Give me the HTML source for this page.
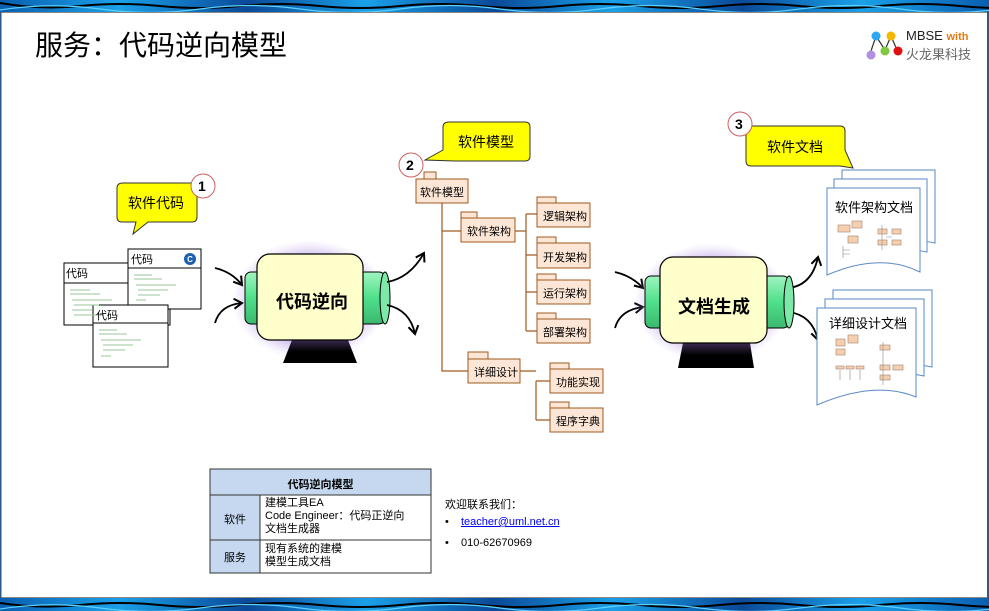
<!DOCTYPE html>
<html><head><meta charset="utf-8">
<style>
body{margin:0;width:989px;height:611px;overflow:hidden;background:#fff;font-family:"Liberation Sans","Noto Sans CJK SC",sans-serif;position:relative}
.a{position:absolute}
.t{font-family:"Liberation Sans","Noto Sans CJK SC",sans-serif}
</style></head><body>
<svg class="a" style="left:0;top:0" width="989" height="611" viewBox="0 0 989 611">
<defs>
<linearGradient id="band" x1="0" x2="1">
<stop offset="0" stop-color="#0a5fb0"/><stop offset=".12" stop-color="#1aa0e8"/><stop offset=".25" stop-color="#0a4a98"/><stop offset=".37" stop-color="#1aa0e8"/><stop offset=".5" stop-color="#0a4a98"/><stop offset=".62" stop-color="#1aa0e8"/><stop offset=".75" stop-color="#0a4a98"/><stop offset=".87" stop-color="#1aa0e8"/><stop offset="1" stop-color="#0a5fb0"/></linearGradient>
<radialGradient id="glow"><stop offset=".55" stop-color="#8a60d0" stop-opacity=".85"/><stop offset="1" stop-color="#c8b0f0" stop-opacity="0"/></radialGradient>
<linearGradient id="cyl" x1="0" y1="0" x2="0" y2="1"><stop offset="0" stop-color="#9ff5bf"/><stop offset=".5" stop-color="#4fe08a"/><stop offset="1" stop-color="#3bb870"/></linearGradient>
<linearGradient id="base" x1="0" y1="0" x2="0" y2="1"><stop offset="0" stop-color="#3a2a50"/><stop offset=".5" stop-color="#000"/></linearGradient>
<marker id="ah" markerWidth="12" markerHeight="12" refX="9" refY="6" orient="auto" markerUnits="userSpaceOnUse"><path d="M1,1 L9,6 L1,11" fill="none" stroke="#000" stroke-width="2"/></marker>
<clipPath id="cb1"><rect x="0" y="0" width="989" height="12"/></clipPath>
<clipPath id="cb2"><rect x="0" y="598" width="989" height="13"/></clipPath>
</defs>
<!-- bands -->
<rect x="0" y="0" width="989" height="12" fill="url(#band)"/>
<g clip-path="url(#cb1)" stroke="#000" stroke-width="2" fill="none">
<path d="M0,3 Q40,10 80,6 T160,6 T240,6 T320,6 T400,6 T480,6 T560,6 T640,6 T720,6 T800,6 T880,6 T960,6 T1040,6"/>
<path d="M0,10 Q50,2 100,9 T200,9 T300,9 T400,9 T500,9 T600,9 T700,9 T800,9 T900,9 T1000,9" stroke="#5cd0ff" stroke-width="1.2"/>
</g>
<rect x="0" y="12" width="989" height="1" fill="#888"/>
<rect x="0" y="598" width="989" height="13" fill="url(#band)"/>
<g clip-path="url(#cb2)" stroke="#000" stroke-width="2" fill="none">
<path d="M0,603 Q40,609 80,605 T160,605 T240,605 T320,605 T400,605 T480,605 T560,605 T640,605 T720,605 T800,605 T880,605 T960,605 T1040,605"/>
<path d="M0,609 Q50,601 100,608 T200,608 T300,608 T400,608 T500,608 T600,608 T700,608 T800,608 T900,608 T1000,608" stroke="#5cd0ff" stroke-width="1.2"/>
</g>
<rect x="0" y="597" width="989" height="1" fill="#888"/>
<rect x="0" y="12" width="1.5" height="586" fill="#2a5a8a"/><rect x="987" y="12" width="2" height="586" fill="#2a5a8a"/>

<!-- logo -->
<g stroke="#333" stroke-width="1.2"><path d="M876,36 L870,54 M876,36 L885,50 M891,36 L885,50 M891,36 L897,50"/></g>
<circle cx="876" cy="36" r="4.5" fill="#2aa8f0"/><circle cx="891" cy="36" r="4.5" fill="#f5b800"/>
<circle cx="871" cy="55" r="4.5" fill="#b090e0"/><circle cx="885" cy="51" r="4.5" fill="#80c840"/><circle cx="898" cy="51" r="4.5" fill="#e01010"/>

<!-- callout 1 -->
<path d="M123,183 H192 Q197,183 197,188 V217 Q197,222 192,222 H148 L133,234 L136,222 H122 Q117,222 117,217 V188 Q117,183 123,183Z" fill="#ffff00" stroke="#333" stroke-width="1"/>
<circle cx="203" cy="186" r="12" fill="#fff" stroke="#d06060" stroke-width="1"/>
<!-- callout 2 -->
<path d="M449,122 H525 Q530,122 530,127 V156 Q530,161 525,161 H455 L425,160 L443,150 V127 Q443,122 449,122Z" fill="#ffff00" stroke="#333" stroke-width="1"/>
<circle cx="411" cy="165" r="12" fill="#fff" stroke="#d06060" stroke-width="1"/>
<!-- callout 3 -->
<path d="M752,126 H840 Q845,126 845,131 V150 L853,168 L840,166 H751 Q746,166 746,161 V131 Q746,126 752,126Z" fill="#ffff00" stroke="#333" stroke-width="1"/>
<circle cx="740" cy="124" r="12" fill="#fff" stroke="#d06060" stroke-width="1"/>

<!-- code docs -->
<g fill="#fff" stroke="#000" stroke-width="1">
<rect x="64" y="263" width="106" height="62"/><line x1="64" y1="283" x2="170" y2="283"/>
<rect x="128" y="249" width="73" height="60"/><line x1="128" y1="268" x2="201" y2="268"/>
<rect x="93" y="305" width="75" height="62"/><line x1="93" y1="323" x2="168" y2="323"/>
</g>
<g stroke="#9ac49a" stroke-width="1">
<path d="M70,290h20M70,294h30M72,300h40M74,305h25M72,310h20M74,315h30"/>
<path d="M134,275h18M134,279h28M136,285h40M138,290h30M138,295h22M136,300h10"/>
<path d="M99,330h18M99,334h28M101,340h40M103,345h30M103,350h22M101,356h10"/>
</g>
<circle cx="190" cy="259" r="6" fill="#1f5fb0"/><text x="190" y="262" font-size="8" fill="#fff" text-anchor="middle" font-weight="bold" class="t">C</text>

<!-- machine 1 -->
<ellipse cx="310" cy="300" rx="78" ry="60" fill="url(#glow)"/>
<path d="M283,363 L292,340 H348 L357,363Z" fill="url(#base)"/>
<rect x="245" y="272" width="140" height="52" rx="6" fill="url(#cyl)" stroke="#000"/>
<ellipse cx="385" cy="298" rx="5" ry="26" fill="#7ee8a8" stroke="#000"/>
<rect x="257" y="254" width="106" height="86" rx="13" fill="#ffffcc" stroke="#000" stroke-width="1.2"/>
<g fill="none" stroke="#000" stroke-width="1.8" marker-end="url(#ah)">
<path d="M215,268 Q232,272 242,285"/><path d="M215,323 Q220,305 242,303"/>
<path d="M387,282 Q410,278 424,253"/><path d="M387,305 Q410,310 415,334"/>
<path d="M615,272 Q632,276 643,288"/><path d="M615,328 Q620,310 643,307"/>
<path d="M789,288 Q812,285 818,257"/><path d="M789,312 Q812,315 818,340"/>
</g>
<!-- machine 2 -->
<ellipse cx="712" cy="303" rx="78" ry="60" fill="url(#glow)"/>
<path d="M678,368 L683,343 H750 L754,368Z" fill="url(#base)"/>
<rect x="645" y="276" width="144" height="52" rx="6" fill="url(#cyl)" stroke="#000"/>
<ellipse cx="789" cy="302" rx="5" ry="26" fill="#7ee8a8" stroke="#000"/>
<rect x="660" y="257" width="107" height="86" rx="13" fill="#ffffcc" stroke="#000" stroke-width="1.2"/>

<!-- tree -->
<g stroke="#a05a20" stroke-width="1.2" fill="none">
<path d="M442,203 V371 H468 M442,231 H461 M515,231 H526 M526,214 V331 M526,214 H537 M526,255 H537 M526,292 H537 M526,331 H537 M520,371 H536 M536,381 V420 M536,381 H550 M536,420 H550"/>
</g>
<g fill="#fde6d5" stroke="#a05a20" stroke-width="1">
<rect x="424" y="172" width="12" height="7"/><rect x="416" y="179" width="52" height="24"/>
<rect x="461" y="212" width="16" height="6"/><rect x="461" y="218" width="54" height="24"/>
<rect x="537" y="197" width="19" height="6"/><rect x="537" y="203" width="53" height="24"/>
<rect x="537" y="237" width="19" height="6"/><rect x="537" y="243" width="53" height="25"/>
<rect x="537" y="274" width="19" height="6"/><rect x="537" y="280" width="53" height="24"/>
<rect x="537" y="313" width="19" height="6"/><rect x="537" y="319" width="53" height="24"/>
<rect x="468" y="352" width="20" height="7"/><rect x="468" y="359" width="52" height="24"/>
<rect x="550" y="363" width="19" height="6"/><rect x="550" y="369" width="53" height="24"/>
<rect x="550" y="402" width="19" height="6"/><rect x="550" y="408" width="53" height="24"/>
</g>

<!-- doc stacks -->
<g fill="#fff" stroke="#5a8ac8" stroke-width="1">
<path d="M842,170 H935 V243 Q900,235 842,252Z"/>
<path d="M834,179 H927 V252 Q892,244 834,261Z"/>
<path d="M827,188 H920 V272 Q880,252 827,275Z"/>
<path d="M833,290 H932 V367 Q900,360 833,375Z"/>
<path d="M825,299 H924 V376 Q892,369 825,384Z"/>
<path d="M817,308 H916 V397 Q875,380 817,405Z"/>
</g>
<g fill="#f6cfae" stroke="#a08070" stroke-width=".6">
<rect x="838" y="225" width="12" height="7"/><rect x="852" y="221" width="10" height="7"/><rect x="848" y="236" width="10" height="7"/>
<rect x="878" y="229" width="9" height="5"/><rect x="892" y="229" width="9" height="5"/><rect x="878" y="240" width="9" height="5"/><rect x="892" y="240" width="9" height="5"/>
<rect x="836" y="339" width="9" height="7"/><rect x="848" y="335" width="10" height="8"/><rect x="836" y="349" width="9" height="6"/>
<rect x="880" y="345" width="10" height="5"/><rect x="880" y="365" width="10" height="5"/><rect x="893" y="365" width="10" height="5"/><rect x="880" y="375" width="10" height="5"/>
<rect x="836" y="366" width="8" height="3"/><rect x="846" y="366" width="8" height="3"/><rect x="856" y="366" width="8" height="3"/>
</g>
<g stroke="#888" stroke-width=".6" fill="none">
<path d="M843,250 H850 M843,246 V258 M843,254 H850 M882,225 V250 M886,237 H892"/>
<path d="M883,342 V385 M840,370 V380 M850,370 V380 M860,370 V380"/>
</g>

<!-- table -->
<rect x="210" y="469" width="221" height="26" fill="#c5d8ef" stroke="#333"/>
<rect x="210" y="495" width="50" height="78" fill="#c5d8ef" stroke="#333"/>
<rect x="260" y="495" width="171" height="78" fill="#fff" stroke="#333"/>
<line x1="210" y1="540" x2="431" y2="540" stroke="#333"/>
</svg>

<div class="a t" style="left:35px;top:24px;font-size:28px;color:#000">服务：代码逆向模型</div>
<div class="a t" style="left:906px;top:28px;font-size:13px;color:#222">MBSE <span style="color:#e87a10;font-weight:bold;font-size:11px">with</span></div>
<div class="a t" style="left:906px;top:44px;font-size:13px;color:#666">火龙果科技</div>

<div class="a t" style="left:128px;top:193px;font-size:14px">软件代码</div>
<div class="a t" style="left:198px;top:178px;font-size:14px;font-weight:bold">1</div>
<div class="a t" style="left:458px;top:132px;font-size:14px">软件模型</div>
<div class="a t" style="left:406px;top:157px;font-size:14px;font-weight:bold">2</div>
<div class="a t" style="left:767px;top:137px;font-size:14px">软件文档</div>
<div class="a t" style="left:735px;top:116px;font-size:14px;font-weight:bold">3</div>

<div class="a t" style="left:66px;top:265px;font-size:11px">代码</div>
<div class="a t" style="left:131px;top:251px;font-size:11px">代码</div>
<div class="a t" style="left:96px;top:307px;font-size:11px">代码</div>

<div class="a t" style="left:276px;top:288px;font-size:18px;font-weight:bold">代码逆向</div>
<div class="a t" style="left:678px;top:293px;font-size:18px;font-weight:bold">文档生成</div>

<div class="a t" style="left:420px;top:184px;font-size:11px">软件模型</div>
<div class="a t" style="left:467px;top:223px;font-size:11px">软件架构</div>
<div class="a t" style="left:543px;top:208px;font-size:11px">逻辑架构</div>
<div class="a t" style="left:543px;top:249px;font-size:11px">开发架构</div>
<div class="a t" style="left:543px;top:285px;font-size:11px">运行架构</div>
<div class="a t" style="left:543px;top:324px;font-size:11px">部署架构</div>
<div class="a t" style="left:474px;top:364px;font-size:11px">详细设计</div>
<div class="a t" style="left:556px;top:374px;font-size:11px">功能实现</div>
<div class="a t" style="left:556px;top:413px;font-size:11px">程序字典</div>

<div class="a t" style="left:835px;top:197px;font-size:13px">软件架构文档</div>
<div class="a t" style="left:829px;top:313px;font-size:13px">详细设计文档</div>

<div class="a t" style="left:210px;top:476px;width:221px;text-align:center;font-size:11px;font-weight:bold">代码逆向模型</div>
<div class="a t" style="left:210px;top:511px;width:50px;text-align:center;font-size:11px">软件</div>
<div class="a t" style="left:210px;top:549px;width:50px;text-align:center;font-size:11px">服务</div>
<div class="a t" style="left:265px;top:497px;font-size:11px;line-height:13px">建模工具EA<br>Code Engineer：代码正逆向<br>文档生成器</div>
<div class="a t" style="left:265px;top:543px;font-size:11px;line-height:13px">现有系统的建模<br>模型生成文档</div>

<div class="a t" style="left:445px;top:496px;font-size:11px">欢迎联系我们：</div>
<div class="a t" style="left:445px;top:516px;font-size:11px">•</div>
<div class="a t" style="left:461px;top:516px;font-size:11px;color:#00e;text-decoration:underline">teacher@uml.net.cn</div>
<div class="a t" style="left:445px;top:537px;font-size:11px">•</div>
<div class="a t" style="left:461px;top:537px;font-size:11px">010-62670969</div>
</body></html>
